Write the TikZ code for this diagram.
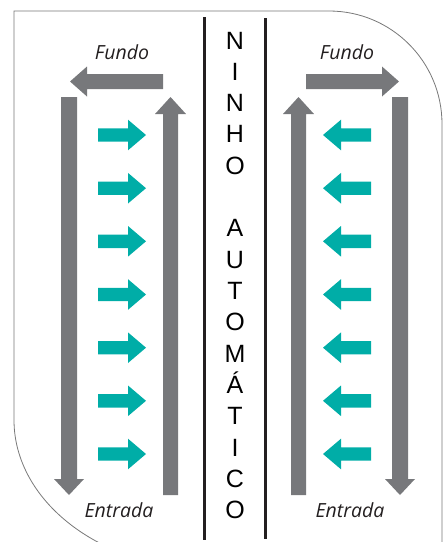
\documentclass[tikz,border=0pt]{standalone}
\usepackage{fontspec}
\setmainfont{Liberation Sans}
\newfontfamily\labelfont{Open Sans}
\definecolor{arrgrey}{RGB}{119,120,123}
\definecolor{tealarr}{RGB}{0,173,167}
\definecolor{ink}{RGB}{35,31,32}
\definecolor{framegrey}{RGB}{120,120,120}
\tikzset{
  greyarr/.style={fill=arrgrey},
  tealfill/.style={fill=tealarr},
  divider/.style={draw=ink,line width=3pt},
  framestyle/.style={draw=framegrey,line width=0.8pt},
  lbl/.style={anchor=base,inner sep=0pt,text=ink,font=\labelfont\itshape\fontsize{19.5}{20}\selectfont},
  letter/.style={anchor=base,inner sep=0pt,text=black,font=\fontsize{25}{25}\selectfont}
}
\begin{document}
\begin{tikzpicture}[x=1pt,y=1pt]
\useasboundingbox (0,0) rectangle (447,-542);
\begin{scope}
\clip (0,0) rectangle (447,-542);
\draw[framestyle] (442,-570) -- (442,-124) arc[start angle=0,end angle=90,radius=113]
  -- (14,-11) -- (14,-420) arc[start angle=180,end angle=255,x radius=200,y radius=150];
\end{scope}
% dividers
\draw[divider] (204,-17) -- (204,-540);
\draw[divider] (265,-18) -- (265,-539);
% left grey arrows
\fill[greyarr] (163,-74) -- (87,-74) -- (87,-66.5) -- (70,-81.5) -- (87,-96.5) -- (87,-89) -- (163,-89) -- cycle;
\fill[greyarr] (61,-97) -- (77,-97) -- (77,-479) -- (84,-479) -- (69,-495) -- (54,-479) -- (61,-479) -- cycle;
\fill[greyarr] (163,-495) -- (178,-495) -- (178,-114) -- (186,-114) -- (170.5,-97) -- (155,-114) -- (163,-114) -- cycle;
% right grey arrows
\fill[greyarr] (306,-74) -- (382,-74) -- (382,-66.5) -- (399,-81.5) -- (382,-96.5) -- (382,-89) -- (306,-89) -- cycle;
\fill[greyarr] (392,-97) -- (408,-97) -- (408,-479) -- (415,-479) -- (400,-495) -- (385,-479) -- (392,-479) -- cycle;
\fill[greyarr] (291,-495) -- (306,-495) -- (306,-114) -- (314,-114) -- (298.5,-97) -- (283,-114) -- (291,-114) -- cycle;
% teal arrows
\foreach \c in {135,188.2,241.3,294.5,347.7,400.8,454}{
  \fill[tealfill] (98,-\c+6.7) -- (128,-\c+6.7) -- (128,-\c+15.3) -- (146,-\c) -- (128,-\c-15.3) -- (128,-\c-6.7) -- (98,-\c-6.7) -- cycle;
  \fill[tealfill] (371,-\c+6.7) -- (341,-\c+6.7) -- (341,-\c+15.3) -- (323,-\c) -- (341,-\c-15.3) -- (341,-\c-6.7) -- (371,-\c-6.7) -- cycle;
}
% labels
\node[lbl] (fundoL) at (122,-59) {Fundo};
\node[lbl] (fundoR) at (347,-59) {Fundo};
\node[lbl] (entradaL) at (119,-517) {Entrada};
\node[lbl] (entradaR) at (350,-517) {Entrada};
% vertical word
\foreach \i/\ch in {0/N,1/I,2/N,3/H,4/O,6/A,7/U,8/T,9/O,10/M,11/Á,12/T,13/I,14/C,15/O}{
  \node[letter] (L\i) at (235,{-(40+\i*31.33+9)}) {\ch};
}
\end{tikzpicture}
\end{document}
